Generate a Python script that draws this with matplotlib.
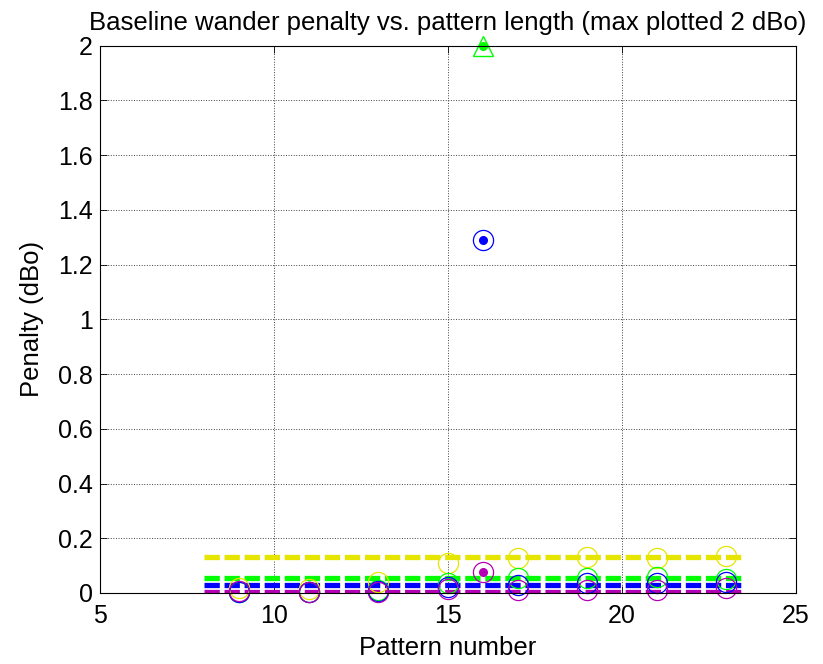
import matplotlib.pyplot as plt

plt.rcParams['font.family'] = ['Liberation Sans', 'DejaVu Sans']

# pattern numbers with a measured penalty
patterns = [9, 11, 13, 15, 17, 19, 21, 23]
yellow_pen = [0.018, 0.013, 0.04, 0.11, 0.127, 0.133, 0.127, 0.135]
green_pen = [0.005, 0.005, 0.01, 0.038, 0.054, 0.054, 0.06, 0.052]
blue_pen = [0.005, 0.005, 0.008, 0.023, 0.029, 0.035, 0.038, 0.04]
magenta_pen = [0.007, 0.005, 0.005, 0.013, 0.011, 0.011, 0.011, 0.02]

# pattern 16 (worst case), green is capped at 2 dBo
worst_pattern = 16
green_worst = 2.0
blue_worst = 1.29
magenta_worst = 0.075

# mean penalty lines
mean_span = [8, 23.5]
yellow_mean = 0.133
green_mean = 0.054
blue_mean = 0.03
magenta_mean = 0.004

x_ticks = [5, 10, 15, 20, 25]
y_ticks = [0, 0.2, 0.4, 0.6, 0.8, 1, 1.2, 1.4, 1.6, 1.8, 2]
y_tick_labels = ['0', '0.2', '0.4', '0.6', '0.8', '1', '1.2', '1.4', '1.6', '1.8', '2']

YEL = '#e5e500'
GRN = '#00ff00'
BLU = '#0000ff'
MAG = '#b400b4'

fig = plt.figure(figsize=(8.23, 6.64), dpi=100)
ax = fig.add_axes([100 / 823, 1 - 593 / 664, 696 / 823, (593 - 45.7) / 664])

for mean, c in [(yellow_mean, YEL), (green_mean, GRN), (blue_mean, BLU), (magenta_mean, MAG)]:
    ax.plot(mean_span, [mean, mean], color=c, lw=3.8, dashes=(2.9, 0.9),
            solid_capstyle='butt', dash_capstyle='butt')

for vals, c in [(yellow_pen, YEL), (green_pen, GRN), (blue_pen, BLU), (magenta_pen, MAG)]:
    ax.plot(patterns, vals, 'o', ms=14.5, mfc='none', mec=c, mew=0.9, clip_on=False)

# worst-case pattern: ringed markers with a dot in the middle
ax.plot(worst_pattern, green_worst, '^', ms=15, mfc='none', mec=GRN, mew=1.0, clip_on=False)
ax.plot(worst_pattern, green_worst, 'o', ms=5.5, color=GRN, clip_on=False)
ax.plot(worst_pattern, blue_worst, 'o', ms=14.5, mfc='none', mec=BLU, mew=0.9)
ax.plot(worst_pattern, blue_worst, 'o', ms=5.5, color=BLU)
ax.plot(worst_pattern, magenta_worst, 'o', ms=14.5, mfc='none', mec=MAG, mew=0.9)
ax.plot(worst_pattern, magenta_worst, 'o', ms=5.5, color=MAG)

ax.set_xlim(5, 25)
ax.set_ylim(0, 2)
ax.set_xticks(x_ticks)
ax.set_yticks(y_ticks)
ax.set_yticklabels(y_tick_labels)
ax.tick_params(direction='in', length=5, width=0.6, labelsize=18, top=True, right=True)
ax.tick_params(axis='x', pad=8)
ax.tick_params(axis='y', pad=5)
ax.grid(True, color='#404040', linestyle=':', linewidth=0.7)
for s in ax.spines.values():
    s.set_linewidth(0.8)

ax.set_xlabel('Pattern number', fontsize=18.5, labelpad=6)
ax.set_ylabel('Penalty (dBo)', fontsize=18.5, labelpad=10)
ax.set_title('Baseline wander penalty vs. pattern length (max plotted 2 dBo)',
             fontsize=18.5, pad=11)

fig.savefig('out.png', dpi=100)
